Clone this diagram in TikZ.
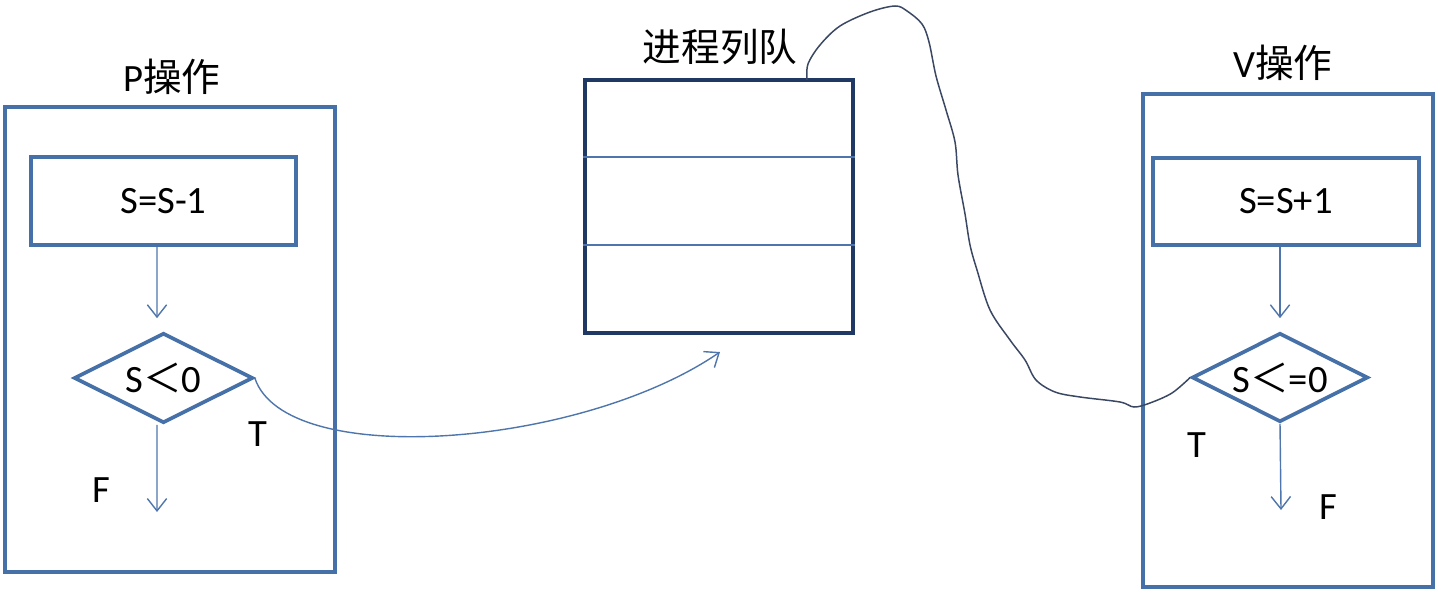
\documentclass[tikz,border=0pt]{standalone}
\usepackage{fontspec}
\setmainfont{Carlito}
\newfontfamily\cjk{Noto Sans CJK SC}
\usetikzlibrary{shapes.geometric,arrows.meta,calc}
\definecolor{boxblue}{HTML}{4670A8}
\definecolor{queueblue}{HTML}{1F3864}
\definecolor{lineblue}{HTML}{4F76AC}
\definecolor{wavegray}{HTML}{3B4863}
\tikzset{
    stepbox/.style={draw=boxblue, line width=2.1pt},
    test/.style={diamond, draw=boxblue, line width=2.1pt, inner sep=0pt, shape aspect=2},
    arr/.style={draw=lineblue, line width=0.8pt, -{Straight Barb[length=7pt,width=11pt]}},
    lbl/.style={inner sep=0pt},
}
\begin{document}
\begin{tikzpicture}[x=0.02cm, y=-0.02cm, font=\fontsize{22}{26}\selectfont]
    % \draw[lightgray] (0, 0) grid (1439, 594);
    \useasboundingbox (0, 0) rectangle (1439, 594);
    % P operation
    \node[stepbox, minimum width=6.6cm, minimum height=9.3cm] (pbox) at (170, 339.5) {};
    \node[lbl] (ptitle) at (172, 77) {P\cjk 操作};
    \node[stepbox, minimum width=5.3cm, minimum height=1.76cm] (ps) at (163.5, 201) {S=S-1};
    \node[test, minimum width=3.58cm, minimum height=1.8cm] (pd) at (163.5, 378) {S{\cjk ＜}0};
    \coordinate (pf) at (157, 512);
    \draw[arr] ([xshift=-0.13cm]pd.north |- ps.south) -- ($(pd.north)+(-6.5, -13)$);
    \draw[arr] ([xshift=-0.13cm]pd.south) -- (pf);
    \node[lbl] (pF) at (101, 490) {F};
    \node[lbl] (pT) at (258, 434) {T};
    % queue
    \node[draw=queueblue, line width=2.6pt, minimum width=5.36cm, minimum height=5.06cm] (q) at (719, 206.5) {};
    \draw[lineblue, line width=0.7pt] (q.west |- 0, 157) -- (q.east |- 0, 157);
    \draw[lineblue, line width=0.7pt] (q.west |- 0, 245) -- (q.east |- 0, 245);
    \node[lbl] (qtitle) at (720, 47) {\cjk 进程列队};
    \coordinate (qa) at (720, 352);
    \draw[arr] (pd.east) .. controls (285, 470) and (580, 448) .. (qa);
    % V operation
    \node[stepbox, minimum width=5.8cm, minimum height=9.86cm] (vbox) at (1288, 340.5) {};
    \node[lbl] (vtitle) at (1283, 63) {V\cjk 操作};
    \node[stepbox, minimum width=5.32cm, minimum height=1.74cm] (vs) at (1286, 201.5) {S=S+1};
    \node[test, minimum width=3.52cm, minimum height=1.78cm] (vd) at (1280, 377.5) {S{\cjk ＜}=0};
    \coordinate (vf) at (1281, 510);
    \draw[arr] (vd.north |- vs.south) -- ($(vd.north)+(0, -13)$);
    \draw[arr] (vd.south) -- (vf);
    \node[lbl] (vT) at (1197, 445) {T};
    \node[lbl] (vF) at (1328, 507) {F};
    % hand drawn link
    \draw[wavegray, line width=0.85pt] plot[smooth, tension=0.55] coordinates {
        (807, 80) (808, 64) (820, 45) (840, 26) (870, 12) (895, 6) (907, 11) (922, 24)
        (929, 42) (936, 76) (946, 110) (955, 142) (958, 175) (965, 214) (970, 245)
        (977, 270) (990, 310) (1010, 340) (1025, 360) (1036, 380) (1055, 392)
        (1080, 397) (1120, 402) (1134, 407) (1150, 403) (1172, 393) (vd.west)};
\end{tikzpicture}
\end{document}
